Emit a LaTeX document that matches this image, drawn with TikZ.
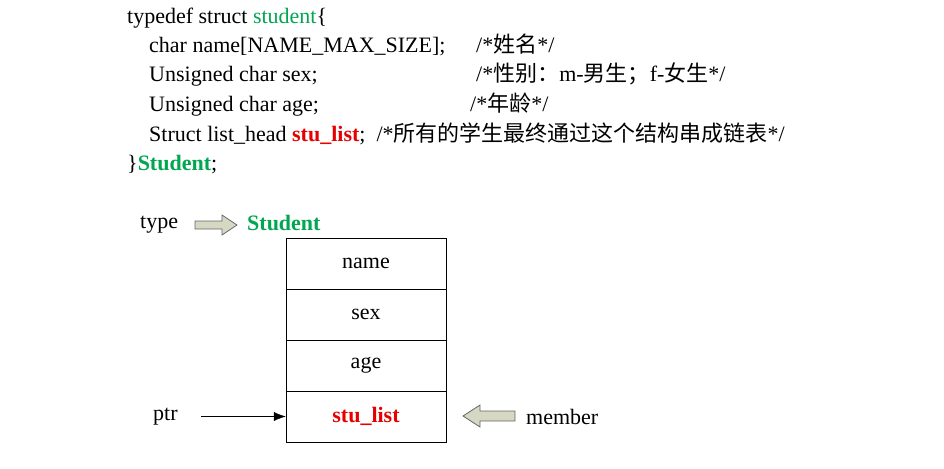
\documentclass[tikz,border=0pt]{standalone}
\usetikzlibrary{arrows.meta}
\usepackage{fontspec}
\setmainfont{Liberation Serif}
\newfontfamily\cjk{Noto Sans CJK SC}
\begin{document}
\begin{tikzpicture}[x=1pt,y=-1pt,font=\fontsize{22}{26}\selectfont,
  txt/.style={anchor=base west,inner sep=0pt},
  cell/.style={draw,minimum width=160pt,minimum height=51pt,inner sep=0pt},
  blk/.style={draw=black!60,fill={rgb,255:red,214;green,216;blue,196},line width=0.8pt}]
\definecolor{sgreen}{RGB}{0,166,80}
\definecolor{sred}{RGB}{230,0,0}
\useasboundingbox (0,0) rectangle (944,468);
\node[txt] (l1) at (127,24) {typedef struct \textcolor{sgreen}{student}\{};
\node[txt] (l2) at (149,53) {char name[NAME\_MAX\_SIZE];};
\node[txt] (c2) at (476,53) {/*{\cjk 姓名}*/};
\node[txt] (l3) at (149,82) {Unsigned char sex;};
\node[txt] (c3) at (476,82) {/*{\cjk 性别：}m-{\cjk 男生；}f-{\cjk 女生}*/};
\node[txt] (l4) at (149,111) {Unsigned char age;};
\node[txt] (c4) at (470,111) {/*{\cjk 年龄}*/};
\node[txt] (l5) at (149,141) {Struct list\_head \textcolor{sred}{\textbf{stu\_list}};\ \ /*{\cjk 所有的学生最终通过这个结构串成链表}*/};
\node[txt] (l6) at (127,170) {\}\textcolor{sgreen}{\textbf{Student}};};
\node[txt] (type) at (140,228) {type};
\node[txt] (stud) at (247,230) {\textcolor{sgreen}{\textbf{Student}}};
\draw[blk] (195,221)--(222,221)--(222,215)--(237,225)--(222,235)--(222,229)--(195,229)--cycle;
\node[cell] (name) at (366,263.5) {name};
\node[cell] (sex) at (366,314.5) {sex};
\node[cell] (age) at (366,365.5) {age};
\node[cell] (stu) at (366,416.5) {\textcolor{sred}{\textbf{stu\_list}}};
\node[anchor=west,inner sep=0pt] (ptr) at (153,416.5) {ptr};
\coordinate (ps) at (201,416.5);
\draw[-{Latex[length=12pt,width=9pt]}] (ps) -- (stu.west);
\draw[blk] (515,411)--(480,411)--(480,405)--(463,416)--(480,427)--(480,421)--(515,421)--cycle;
\node[anchor=west,inner sep=0pt] (mem) at (526,416.5) {member};
\end{tikzpicture}
\end{document}
